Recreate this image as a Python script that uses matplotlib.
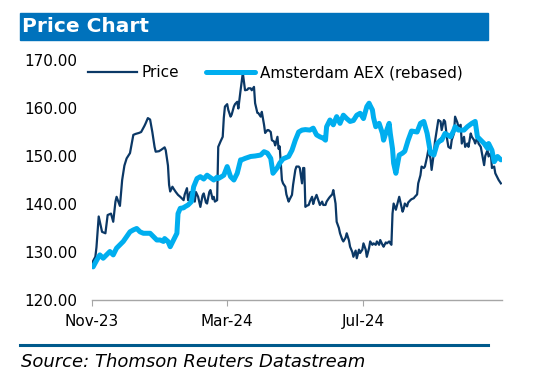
import numpy as np
import matplotlib
matplotlib.use("Agg")
import matplotlib.pyplot as plt
import matplotlib.dates as mdates
from matplotlib.patches import Rectangle

# days after 2023-11-01
price_days = [0, 3, 4, 6, 9, 12, 14, 17, 19, 21, 22, 25, 27, 29, 31, 34, 37, 39, 42, 44,
              47, 48, 50, 52, 54, 56, 57, 60, 62, 65, 66, 68, 69, 70, 72, 73, 75, 77, 79, 82,
              83, 85, 86, 88, 90, 92, 93, 95, 97, 99, 100, 102, 103, 105, 106, 108, 109, 110, 112, 113,
              115, 117, 118, 119, 121, 122, 124, 125, 127, 128, 130, 131, 133, 135, 137, 139, 140, 142, 143, 145,
              146, 148, 149, 151, 152, 154, 155, 157, 158, 160, 161, 163, 164, 166, 167, 168, 170, 171, 173, 174,
              176, 177, 179, 180, 182, 183, 185, 186, 188, 189, 190, 191, 192, 194, 195, 197, 198, 199, 201, 203,
              204, 206, 207, 209, 210, 212, 213, 215, 216, 218, 219, 221, 222, 224, 225, 227, 228, 230, 231, 233,
              234, 236, 237, 239, 240, 242, 243, 245, 246, 248, 249, 251, 252, 254, 255, 257, 258, 260, 261, 263,
              264, 266, 267, 268, 269, 270, 272, 273, 275, 276, 278, 279, 280, 282, 283, 285, 286, 288, 289, 291,
              292, 294, 295, 297, 298, 300, 301, 303, 304, 306, 307, 309, 310, 312, 313, 315, 316, 318, 319, 321,
              322, 324, 325, 327, 328, 330, 331, 333, 334, 336, 337, 339, 340, 342, 343, 345, 346, 348, 349, 351,
              352, 354, 355, 357, 358, 360, 361, 363, 364, 366]
price = [127.7, 129.0, 131.0, 137.4, 134.2, 133.9, 137.7, 138.0, 136.3, 140.5, 141.5, 139.6, 145.0, 148.0, 149.5, 150.6, 154.4, 154.6, 154.8, 155.0,
         156.3, 156.8, 157.9, 157.6, 155.0, 151.9, 150.9, 151.0, 151.3, 151.8, 151.2, 148.0, 144.0, 142.6, 143.6, 143.2, 142.5, 141.9, 141.5, 140.8,
         142.0, 143.3, 140.8, 142.5, 142.3, 140.5, 142.5, 141.5, 139.4, 141.8, 142.2, 140.3, 140.1, 142.5, 142.9, 141.0, 141.5, 140.5, 140.8, 151.9,
         153.0, 154.0, 158.0, 160.3, 160.8, 159.6, 158.2, 158.6, 160.3, 160.8, 161.3, 159.9, 163.7, 167.3, 163.7, 163.8, 164.1, 164.1, 163.7, 164.4,
         161.0, 159.0, 158.9, 158.2, 159.2, 156.5, 154.8, 155.4, 155.4, 155.0, 153.3, 153.0, 152.2, 154.0, 151.5, 152.0, 145.0, 144.3, 143.6, 142.0,
         140.5, 141.0, 141.9, 144.0, 147.1, 147.8, 147.8, 147.5, 144.3, 147.5, 147.5, 139.4, 139.6, 139.8, 140.5, 141.5, 140.0, 140.8, 141.9, 140.5,
         139.8, 140.5, 139.8, 139.8, 140.5, 141.2, 141.5, 142.0, 142.9, 140.1, 136.3, 135.0, 133.9, 132.6, 132.2, 133.0, 133.9, 132.4, 131.1, 130.0,
         129.0, 130.3, 128.7, 130.5, 129.8, 130.5, 131.8, 130.5, 129.0, 130.8, 132.2, 131.5, 131.8, 131.5, 132.2, 131.5, 132.5, 131.5, 131.1, 132.0,
         131.8, 132.2, 131.8, 131.5, 138.0, 140.1, 138.8, 139.7, 141.5, 140.5, 138.4, 139.0, 140.1, 139.5, 140.3, 140.8, 141.0, 141.2, 141.5, 142.0,
         144.3, 146.0, 147.8, 147.5, 147.8, 149.9, 151.2, 149.5, 147.1, 150.6, 153.0, 156.1, 157.5, 157.2, 155.4, 157.5, 157.2, 153.3, 151.9, 151.6,
         153.3, 154.7, 158.2, 157.0, 156.1, 156.5, 152.6, 154.0, 151.9, 152.6, 151.9, 154.7, 154.0, 153.3, 152.6, 154.0, 152.6, 151.9, 150.6, 148.1,
         150.0, 151.2, 149.9, 150.6, 147.5, 147.8, 146.4, 145.5, 145.0, 144.3]

aex_days = [1, 3, 4, 7, 10, 13, 16, 19, 22, 25, 28, 31, 34, 37, 40, 43, 46, 49, 52, 55,
            58, 61, 64, 65, 68, 70, 73, 76, 77, 79, 82, 83, 86, 89, 91, 94, 97, 100, 103, 106,
            109, 112, 113, 116, 118, 121, 124, 127, 130, 133, 134, 137, 142, 146, 151, 154, 157, 160, 162, 166,
            168, 171, 176, 179, 182, 185, 188, 191, 195, 198, 201, 204, 207, 209, 210, 213, 216, 219, 222, 225,
            228, 231, 234, 237, 240, 243, 246, 248, 249, 251, 252, 254, 257, 260, 261, 264, 266, 267, 269, 270,
            272, 275, 278, 280, 283, 286, 291, 294, 297, 300, 303, 306, 309, 312, 313, 316, 321, 324, 325, 328,
            333, 336, 340, 343, 345, 348, 351, 354, 355, 358, 360, 363, 366]
aex = [126.9, 127.8, 128.2, 129.4, 128.7, 129.4, 130.1, 129.4, 130.8, 131.5, 132.2, 133.2, 134.2, 134.6, 134.9, 134.2, 133.9, 133.9, 133.9, 133.2,
       132.5, 132.5, 132.2, 132.8, 132.2, 131.1, 132.5, 133.9, 138.0, 139.1, 139.2, 139.4, 139.8, 140.5, 143.6, 145.3, 145.7, 145.2, 146.0, 145.5,
       145.0, 145.6, 145.3, 145.7, 146.0, 147.8, 145.7, 145.0, 146.4, 149.2, 149.2, 149.5, 149.9, 150.0, 150.2, 150.9, 150.6, 149.5, 146.4, 147.6,
       148.5, 149.4, 149.9, 151.2, 153.3, 155.0, 155.4, 155.5, 155.4, 155.8, 154.4, 154.0, 153.7, 153.3, 156.1, 157.5, 156.5, 158.2, 156.8, 158.5,
       157.8, 157.2, 157.4, 158.5, 158.9, 157.8, 160.3, 161.0, 160.5, 159.6, 158.0, 156.1, 156.8, 154.7, 153.3, 155.5, 156.8, 154.7, 151.5, 148.5,
       146.4, 150.2, 150.6, 151.0, 153.3, 155.2, 155.0, 156.8, 157.2, 154.7, 150.6, 150.2, 152.6, 153.3, 153.3, 154.7, 154.0, 155.4, 156.1, 155.4,
       155.4, 156.1, 156.8, 157.2, 154.0, 153.3, 152.6, 151.6, 152.6, 151.2, 148.8, 149.9, 149.2]

y_ticks = [120, 130, 140, 150, 160, 170]
x_ticks = ["2023-11-01", "2024-03-01", "2024-07-01"]

start = np.datetime64("2023-11-01")
price_x = start + np.array(price_days)
aex_x = start + np.array(aex_days)

fig = plt.figure(figsize=(5.53, 3.79), dpi=100)
ax = fig.add_axes([92 / 553, 1 - 300 / 379, 410 / 553, 240 / 379])

ax.plot(price_x, price, color="#0b3866", lw=1.6, label="Price")
ax.plot(aex_x, aex, color="#00aeef", lw=3.6, label="Amsterdam AEX (rebased)", solid_capstyle="round")

ax.set_ylim(120, 170)
ax.set_yticks(y_ticks)
ax.set_yticklabels(["%.2f" % v for v in y_ticks])
ax.set_xlim(start, start + 367)
ax.set_xticks([np.datetime64(d) for d in x_ticks])
ax.xaxis.set_major_formatter(mdates.DateFormatter("%b-%y"))

for s in ["top", "right", "left"]:
    ax.spines[s].set_visible(False)
ax.spines["bottom"].set_color("#a6a6a6")
ax.spines["bottom"].set_linewidth(1.0)
ax.tick_params(axis="y", length=0, pad=10.5, labelsize=11)
ax.tick_params(axis="x", length=4, color="#a6a6a6", pad=6, labelsize=11)

ax.legend(loc="center left", bbox_to_anchor=(-0.025, 0.946), ncol=2, frameon=False,
          fontsize=11, handlelength=3.2, handletextpad=0.3, columnspacing=1.8, borderaxespad=0)

# title bar and bottom rule
fig.patches.append(Rectangle((20 / 553, 1 - 40 / 379), 468 / 553, 27 / 379,
                             transform=fig.transFigure, color="#0072bc", zorder=0))
fig.text(22 / 553, 1 - 27 / 379, "Price Chart", color="white", fontsize=14.5,
         fontweight="bold", va="center", ha="left")
fig.add_artist(plt.Line2D([20 / 553, 488 / 553], [1 - 345 / 379, 1 - 345 / 379],
                          color="#005a8c", lw=2.2))
fig.text(21 / 553, 1 - 362 / 379, "Source: Thomson Reuters Datastream", fontsize=13,
         style="italic", va="center", ha="left")

fig.savefig("out.png", dpi=100)
